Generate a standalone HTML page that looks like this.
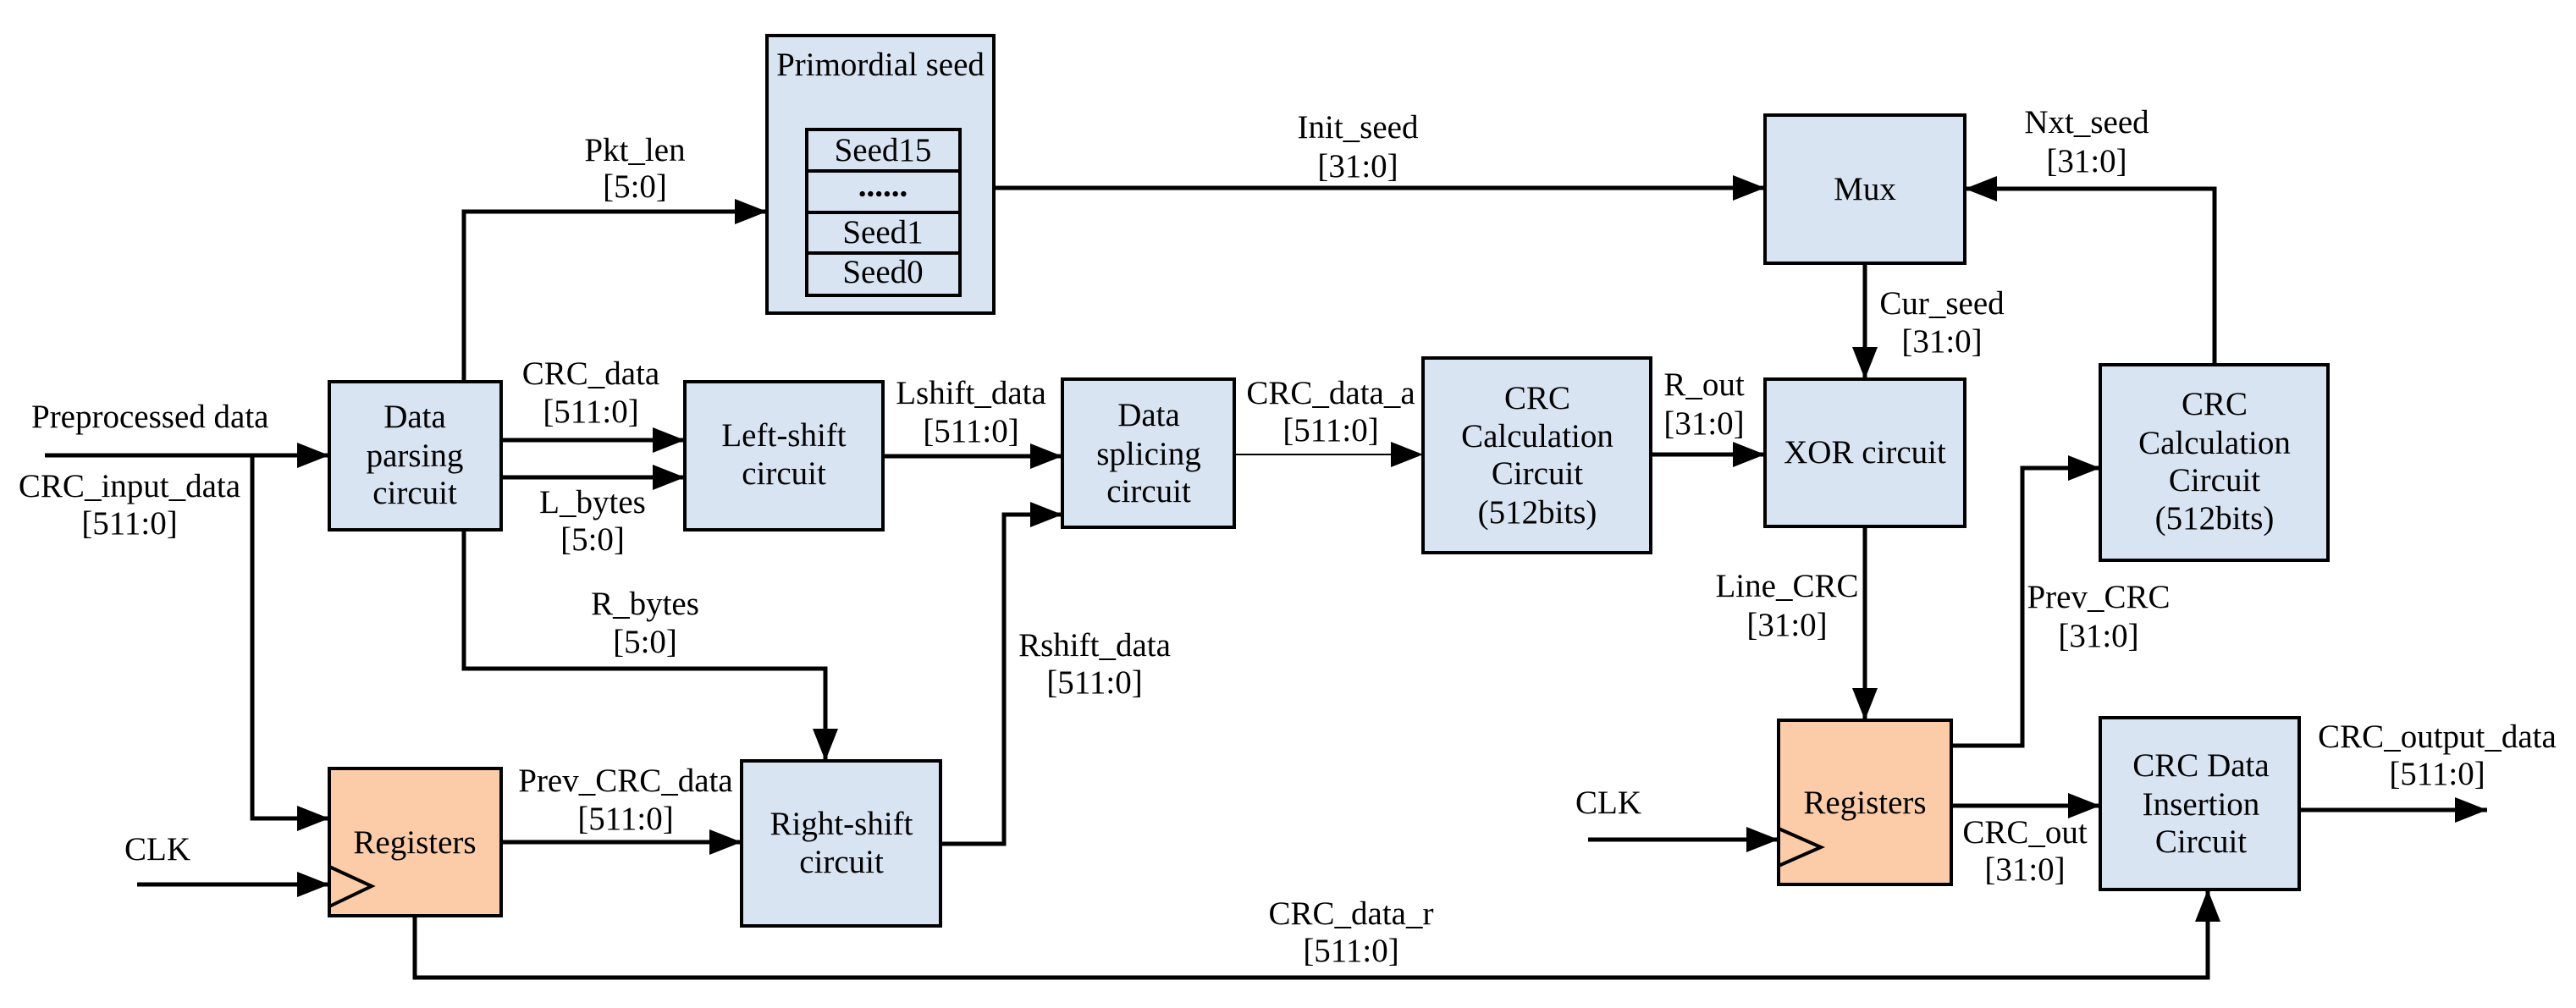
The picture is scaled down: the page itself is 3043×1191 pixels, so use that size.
<!DOCTYPE html>
<html><head><meta charset="utf-8"><style>
html,body{margin:0;padding:0;background:#fff;}
svg{display:block;}
svg text{font-family:"Liberation Serif","Times New Roman","DejaVu Serif",serif;font-size:39px;fill:#000;text-anchor:middle;}
</style></head><body>
<svg width="3043" height="1191" viewBox="0 0 3043 1191" xmlns="http://www.w3.org/2000/svg" font-family="Liberation Serif, Times New Roman, serif">
<defs>
<marker id="a" viewBox="0 0 10 10" refX="10" refY="5" markerWidth="38" markerHeight="30" markerUnits="userSpaceOnUse" orient="auto-start-reverse" preserveAspectRatio="none"><path d="M0,0L10,5L0,10z" fill="#000"/></marker>
</defs>
<g stroke="#000" stroke-width="4" fill="#d9e4f3">
<rect x="906" y="42" width="268" height="328"/>
<rect x="389" y="451" width="203" height="175"/>
<rect x="809" y="451" width="234" height="175"/>
<rect x="1255" y="448" width="203" height="175"/>
<rect x="876" y="899" width="235" height="195"/>
<rect x="1681" y="423" width="269" height="230"/>
<rect x="2085" y="136" width="236" height="175"/>
<rect x="2085" y="448" width="236" height="174"/>
<rect x="2481" y="431" width="269" height="231"/>
<rect x="2481" y="848" width="235" height="203"/>
<rect x="389" y="908" width="203" height="174" fill="#fccca8"/>
<rect x="2101" y="851" width="204" height="194" fill="#fccca8"/>
</g>
<g stroke="#000" stroke-width="4" fill="none">
<rect x="953" y="153" width="181" height="196"/>
<line x1="953" y1="202" x2="1134" y2="202"/>
<line x1="953" y1="251" x2="1134" y2="251"/>
<line x1="953" y1="299" x2="1134" y2="299"/>
<polyline points="389,1024 439,1047 389,1071"/>
<polyline points="2101,979 2151,1001 2101,1023"/>
</g>
<g stroke="#000" stroke-width="5" fill="none" marker-end="url(#a)">
<line x1="53" y1="538" x2="389" y2="538"/>
<polyline points="298,538 298,967 389,967"/>
<line x1="162" y1="1045" x2="389" y2="1045"/>
<polyline points="548,451 548,250 906,250"/>
<line x1="592" y1="520" x2="809" y2="520"/>
<line x1="592" y1="564" x2="809" y2="564"/>
<polyline points="548,626 548,790 975,790 975,899"/>
<line x1="1043" y1="539" x2="1255" y2="539"/>
<polyline points="1111,997 1186,997 1186,608 1255,608"/>
<line x1="592" y1="995" x2="876" y2="995"/>
<polyline points="1174,222 2085,222"/>
<line x1="1950" y1="537" x2="2085" y2="537"/>
<polyline points="2616,431 2616,223 2321,223"/>
<line x1="2203" y1="311" x2="2203" y2="448"/>
<line x1="2203" y1="622" x2="2203" y2="851"/>
<polyline points="2305,881 2389,881 2389,553 2481,553"/>
<line x1="2305" y1="952" x2="2481" y2="952"/>
<line x1="2716" y1="957" x2="2938" y2="957"/>
<line x1="1876" y1="992" x2="2101" y2="992"/>
<polyline points="490,1082 490,1155 2608,1155 2608,1051"/>
</g>
<line x1="1458" y1="537" x2="1643" y2="537" stroke="#000" stroke-width="2"/>
<path d="M1643,522L1681,537L1643,552z" fill="#000"/>
<text x="750" y="190">Pkt_len</text><text x="750" y="233">[5:0]</text>
<text x="37" y="505" style="text-anchor:start">Preprocessed data</text>
<text x="153" y="587">CRC_input_data</text><text x="153" y="631">[511:0]</text>
<text x="698" y="454">CRC_data</text><text x="698" y="499">[511:0]</text>
<text x="700" y="606">L_bytes</text><text x="700" y="650">[5:0]</text>
<text x="490" y="505">Data</text><text x="490" y="551">parsing</text><text x="490" y="595">circuit</text>
<text x="926" y="527">Left-shift</text><text x="926" y="572">circuit</text>
<text x="1147" y="477">Lshift_data</text><text x="1147" y="522">[511:0]</text>
<text x="1357" y="503">Data</text><text x="1357" y="549">splicing</text><text x="1357" y="593">circuit</text>
<text x="762" y="726">R_bytes</text><text x="762" y="771">[5:0]</text>
<text x="1293" y="775">Rshift_data</text><text x="1293" y="819">[511:0]</text>
<text x="739" y="935">Prev_CRC_data</text><text x="739" y="980">[511:0]</text>
<text x="490" y="1008">Registers</text>
<text x="994" y="986">Right-shift</text><text x="994" y="1031">circuit</text>
<text x="186" y="1016">CLK</text>
<text x="1040" y="89">Primordial seed</text>
<text x="1043" y="190">Seed15</text><text x="1043" y="232" style="font-weight:bold">......</text>
<text x="1043" y="287">Seed1</text><text x="1043" y="334">Seed0</text>
<text x="1604" y="163">Init_seed</text><text x="1604" y="209">[31:0]</text>
<text x="1572" y="477">CRC_data_a</text><text x="1572" y="521">[511:0]</text>
<text x="1816" y="483">CRC</text><text x="1816" y="528">Calculation</text><text x="1816" y="572">Circuit</text><text x="1816" y="618">(512bits)</text>
<text x="2013" y="467">R_out</text><text x="2013" y="513">[31:0]</text>
<text x="2203" y="236">Mux</text>
<text x="2203" y="547">XOR circuit</text>
<text x="2465" y="157">Nxt_seed</text><text x="2465" y="203">[31:0]</text>
<text x="2294" y="371">Cur_seed</text><text x="2294" y="416">[31:0]</text>
<text x="2616" y="490">CRC</text><text x="2616" y="536">Calculation</text><text x="2616" y="580">Circuit</text><text x="2616" y="625">(512bits)</text>
<text x="2111" y="705">Line_CRC</text><text x="2111" y="751">[31:0]</text>
<text x="2479" y="718">Prev_CRC</text><text x="2479" y="764">[31:0]</text>
<text x="2203" y="961">Registers</text>
<text x="1900" y="961">CLK</text>
<text x="2392" y="996">CRC_out</text><text x="2392" y="1040">[31:0]</text>
<text x="2600" y="917">CRC Data</text><text x="2600" y="963">Insertion</text><text x="2600" y="1007">Circuit</text>
<text x="2879" y="883">CRC_output_data</text><text x="2879" y="927">[511:0]</text>
<text x="1596" y="1092">CRC_data_r</text><text x="1596" y="1136">[511:0]</text>
</svg>
</body></html>
